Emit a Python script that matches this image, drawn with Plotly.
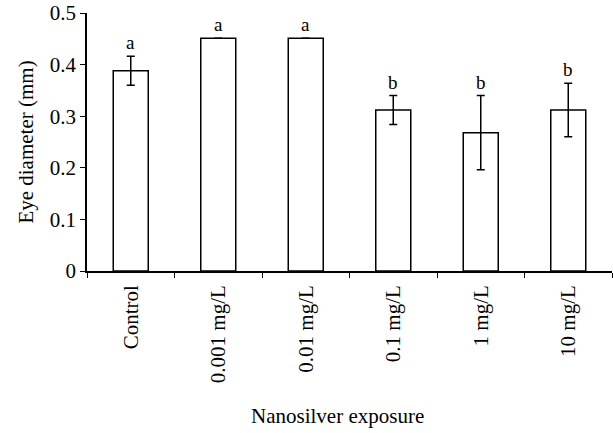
import plotly.graph_objects as go

categories = ["Control", "0.001 mg/L", "0.01 mg/L", "0.1 mg/L", "1 mg/L", "10 mg/L"]
values = [0.388, 0.451, 0.451, 0.312, 0.268, 0.312]
errors = [0.028, 0.0, 0.0, 0.028, 0.072, 0.052]
letters = ["a", "a", "a", "b", "b", "b"]
y_ticks = [0, 0.1, 0.2, 0.3, 0.4, 0.5]
y_tick_labels = ["0", "0.1", "0.2", "0.3", "0.4", "0.5"]

FONT = "Liberation Serif"

fig = go.Figure()
fig.add_trace(go.Bar(
    x=categories, y=values,
    marker=dict(color="white", line=dict(color="black", width=1.5)),
    error_y=dict(type="data", array=errors, visible=True, color="black",
                 thickness=1.5, width=4),
    showlegend=False,
))

for c, v, e, l in zip(categories, values, errors, letters):
    fig.add_annotation(x=c, y=v + e, text=l, showarrow=False,
                       yanchor="bottom", yshift=1,
                       font=dict(family=FONT, size=19, color="black"))

fig.add_annotation(text="Nanosilver exposure", xref="paper", yref="paper",
                   x=0.478, y=-0.562, xanchor="center", yanchor="middle",
                   showarrow=False, font=dict(family=FONT, size=21, color="black"))

fig.update_layout(
    width=613, height=433,
    margin=dict(l=87, r=1, t=13, b=162),
    paper_bgcolor="white", plot_bgcolor="white",
    bargap=0.6,
    font=dict(family=FONT, size=21, color="black"),
    xaxis=dict(
        showline=True, linecolor="black", linewidth=1.5,
        ticks="outside", tickson="boundaries", ticklen=5, tickcolor="black",
        tickangle=-90, showgrid=False, ticklabelstandoff=4,
        tickfont=dict(family=FONT, size=21),
    ),
    yaxis=dict(
        range=[0, 0.5], tickvals=y_ticks, ticktext=y_tick_labels,
        showline=True, linecolor="black", linewidth=1.5,
        ticks="outside", ticklen=5, tickcolor="black",
        showgrid=False, zeroline=False,
        title=dict(text="Eye diameter (mm)", standoff=10,
                   font=dict(family=FONT, size=21)),
        tickfont=dict(family=FONT, size=21),
    ),
)

fig.write_html("out.html")
